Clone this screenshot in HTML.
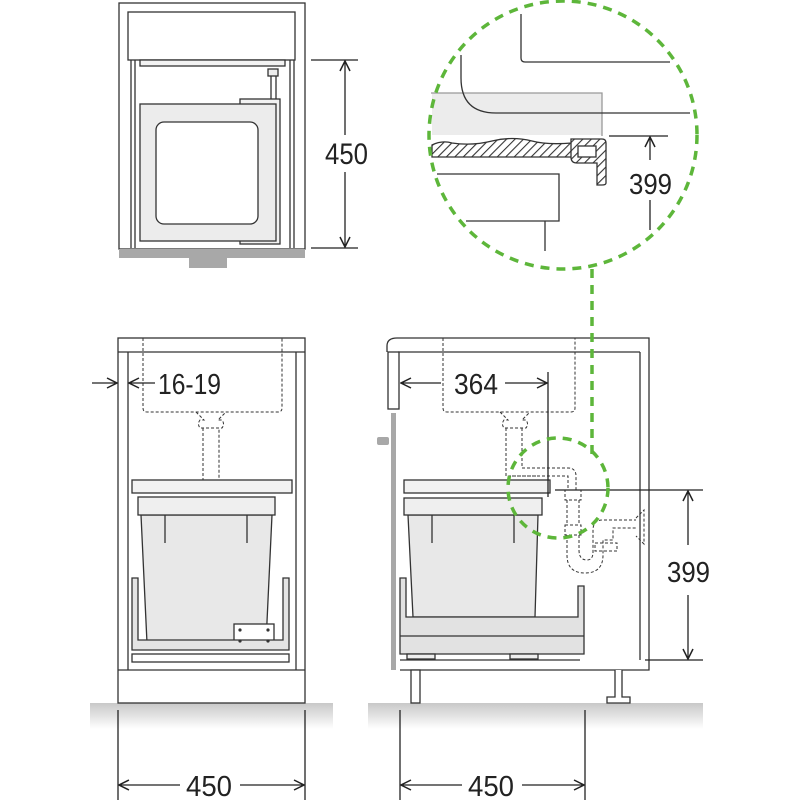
<!DOCTYPE html>
<html><head><meta charset="utf-8"><style>
html,body{margin:0;padding:0;background:#fff}
svg{display:block}
text{font-family:"Liberation Sans",sans-serif;fill:#222}
</style></head><body>
<svg width="800" height="800" viewBox="0 0 800 800" xmlns="http://www.w3.org/2000/svg">
<defs>
<linearGradient id="gr" x1="0" y1="0" x2="0" y2="1"><stop offset="0" stop-color="#c8c8c8"/><stop offset="1" stop-color="#fff"/></linearGradient>
<pattern id="hatch" width="6" height="6" patternUnits="userSpaceOnUse" patternTransform="rotate(45)"><rect width="6" height="6" fill="#fff"/><line x1="0" y1="0" x2="0" y2="6" stroke="#333" stroke-width="2.2"/></pattern>
<marker id="ar" viewBox="0 0 12 12" refX="11" refY="6" markerWidth="12" markerHeight="12" orient="auto" markerUnits="userSpaceOnUse"><path d="M1,1 L11,6 L1,11" fill="none" stroke="#222" stroke-width="1.5"/></marker>
</defs>
<g fill="none" stroke="#333" stroke-width="1.3">
<!-- TOP VIEW -->
<rect x="119" y="3" width="186" height="246" fill="#fff"/>
<rect x="128" y="12" width="167" height="48" fill="#fff"/>
<line x1="131" y1="60" x2="131" y2="248"/><line x1="135" y1="60" x2="135" y2="248"/>
<line x1="290" y1="60" x2="290" y2="248"/><line x1="294" y1="60" x2="294" y2="248"/>
<rect x="140" y="60" width="145" height="6" fill="#f2f2f2"/>
<rect x="268" y="69" width="10" height="7" fill="#eee"/>
<line x1="271" y1="76" x2="271" y2="100"/><line x1="276" y1="76" x2="276" y2="100"/>
<rect x="240" y="99" width="40" height="145" fill="#f2f2f2"/>
<rect x="140" y="104" width="136" height="137" fill="#ececec"/>
<rect x="156" y="122" width="102" height="102" rx="8" fill="#fff"/>
</g>
<rect x="119" y="249" width="186" height="9" fill="#a8a8a8"/>
<rect x="189" y="258" width="38" height="10" fill="#a8a8a8"/>
<g stroke="#222" stroke-width="1.3" fill="none">
<line x1="311" y1="60" x2="358" y2="60"/><line x1="311" y1="248" x2="358" y2="248"/>
<line x1="345" y1="135" x2="345" y2="61" marker-end="url(#ar)"/>
<line x1="345" y1="172" x2="345" y2="247" marker-end="url(#ar)"/>
</g>
<text x="325" y="164" font-size="30" textLength="43" lengthAdjust="spacingAndGlyphs">450</text>

<!-- GROUND -->
<rect x="90" y="703" width="243" height="26" fill="url(#gr)"/>
<rect x="368" y="703" width="335" height="26" fill="url(#gr)"/>

<!-- FRONT VIEW -->
<g fill="none" stroke="#333" stroke-width="1.3">
<rect x="118" y="338" width="187" height="365" fill="#fff"/>
<line x1="118" y1="352" x2="305" y2="352"/>
<line x1="128" y1="352" x2="128" y2="670"/><line x1="296" y1="352" x2="296" y2="670"/>
<line x1="118" y1="670" x2="305" y2="670"/>
<g stroke-dasharray="3,2" stroke-width="1">
<path d="M143,338 V408 q0,4 4,4 H278 q4,0 4,-4 V338"/>
<path d="M196,412 l8,8 h-4 q-3,4 0,8 h22 q3,-4 0,-8 h-4 l8,-8"/>
<path d="M203,428 V480 q0,8 8,8 q8,0 8,-8 V428"/>
</g>
<rect x="132" y="480" width="160" height="13" fill="#f2f2f2"/>
<path d="M141,515 L147,643 H266 L272,515 Z" fill="#e8e8e8"/>
<rect x="138" y="497" width="137" height="18" fill="#efefef"/>
<line x1="165" y1="515" x2="165" y2="543"/><line x1="247" y1="515" x2="247" y2="543"/>
<rect x="234" y="624" width="40" height="20" fill="#fff"/>
<path d="M132,578 H138 V640 H283 V578 H289 V650 H132 Z" fill="#e4e4e4"/>
<rect x="132" y="654" width="157" height="8" fill="#fff"/>
</g>
<g fill="#333"><circle cx="240" cy="630" r="1.6"/><circle cx="268" cy="630" r="1.6"/><circle cx="240" cy="641" r="1.6"/><circle cx="268" cy="641" r="1.6"/></g>
<g stroke="#222" stroke-width="1.3" fill="none">
<line x1="92" y1="383" x2="117" y2="383" marker-end="url(#ar)"/>
<line x1="155" y1="383" x2="129" y2="383" marker-end="url(#ar)"/>
<line x1="118" y1="710" x2="118" y2="800"/><line x1="305" y1="710" x2="305" y2="800"/>
<line x1="180" y1="785" x2="119" y2="785" marker-end="url(#ar)"/>
<line x1="240" y1="785" x2="304" y2="785" marker-end="url(#ar)"/>
</g>
<text x="158" y="394" font-size="29" textLength="63" lengthAdjust="spacingAndGlyphs">16-19</text>
<text x="186" y="796" font-size="29" textLength="46" lengthAdjust="spacingAndGlyphs">450</text>

<!-- SIDE VIEW -->
<g fill="none" stroke="#333" stroke-width="1.3">
<path d="M387,352 V346 q0,-8 10,-8 H649 V670 H640"/>
<line x1="640" y1="352" x2="640" y2="660"/>
<line x1="398" y1="352" x2="640" y2="352"/>
<rect x="388" y="352" width="11" height="57" fill="#fff"/>
<line x1="400" y1="670" x2="640" y2="670"/>
<line x1="400" y1="660" x2="580" y2="660"/>
<g stroke-dasharray="3,2" stroke-width="1">
<path d="M443,338 V408 q0,4 4,4 H571 q4,0 4,-4 V338"/>
<path d="M500,412 l8,8 h-4 q-3,4 0,8 h22 q3,-4 0,-8 h-4 l8,-8"/>
<path d="M506,428 V476 H540 M522,428 V468 H568 q8,0 8,8 V490 M512,476 H568 V490"/>
<path d="M565,490 h16 v10 h-16 z M565,525 h16 v10 h-16 z M567,500 v25 M579,500 v25"/>
<path d="M567,535 V555 q0,18 18,18 q18,0 18,-18 V540 h10 V528 H636 M579,535 V550 q0,10 8,10 q6,0 6,-8 V530 q0,-10 10,-10 H636"/>
<path d="M595,543 h22 v8 h-22 z M636,518 l8,-8 v34 l-8,-8"/>
</g>
<rect x="404" y="480" width="146" height="13" fill="#f2f2f2"/>
<path d="M408,515 L413,617 H535 L538,515 Z" fill="#e8e8e8"/>
<rect x="404" y="498" width="138" height="17" fill="#efefef"/>
<line x1="432" y1="515" x2="432" y2="543"/><line x1="514" y1="515" x2="514" y2="543"/>
<path d="M400,578 H406 V617 H578 V586 H584 V654 H400 Z" fill="#e2e2e2"/>
<line x1="400" y1="636" x2="584" y2="636"/>
<rect x="407" y="654" width="28" height="5" fill="#eee"/>
<rect x="510" y="654" width="28" height="5" fill="#eee"/>
<rect x="411" y="670" width="9" height="33" fill="#fff"/>
<path d="M615,670 V697 H607 V703 H630 V697 H622 V670" fill="#fff"/>
</g>
<rect x="391" y="413" width="5" height="257" fill="#a8a8a8"/>
<rect x="377" y="437" width="12" height="8" rx="2" fill="#a8a8a8"/>
<g stroke="#222" stroke-width="1.3" fill="none">
<line x1="548" y1="372" x2="548" y2="497"/>
<line x1="441" y1="383" x2="401" y2="383" marker-end="url(#ar)"/>
<line x1="505" y1="383" x2="547" y2="383" marker-end="url(#ar)"/>
<line x1="555" y1="490" x2="703" y2="490"/><line x1="645" y1="660" x2="703" y2="660"/>
<line x1="688" y1="545" x2="688" y2="491" marker-end="url(#ar)"/>
<line x1="688" y1="595" x2="688" y2="659" marker-end="url(#ar)"/>
<line x1="400" y1="710" x2="400" y2="800"/><line x1="585" y1="710" x2="585" y2="800"/>
<line x1="462" y1="785" x2="401" y2="785" marker-end="url(#ar)"/>
<line x1="522" y1="785" x2="584" y2="785" marker-end="url(#ar)"/>
</g>
<text x="454" y="394" font-size="29" textLength="44" lengthAdjust="spacingAndGlyphs">364</text>
<text x="667" y="582" font-size="29" textLength="43" lengthAdjust="spacingAndGlyphs">399</text>
<text x="468" y="796" font-size="29" textLength="46" lengthAdjust="spacingAndGlyphs">450</text>

<!-- DETAIL CIRCLE -->
<g fill="none" stroke="#333" stroke-width="1.3">
<path d="M521,14 V58 q0,4 4,4 H670"/>
<rect x="432" y="93" width="170" height="42" fill="#ececec" stroke="none"/>
<path d="M431,93 H602 V136" stroke="#999"/>
<path d="M461,55 V78 q0,35 35,35 H690"/>
<path d="M432,145 q10,-5 20,-2 q20,3 40,-2 q20,-5 40,0 q15,4 40,2 V157 H432 Z" fill="url(#hatch)"/>
<path d="M571,139 H602 q4,0 4,4 V183 q0,2 -4,2 H597 V163 H577 q-6,0 -6,-6 Z" fill="url(#hatch)"/>
<rect x="578" y="146" width="18" height="11" fill="#fff"/>
<path d="M437,174 H559 V221 H545 V251 M466,221 H559"/>
<line x1="609" y1="136" x2="668" y2="136" stroke="#222"/>
<line x1="650" y1="160" x2="650" y2="137" stroke="#222" marker-end="url(#ar)"/>
<line x1="650" y1="200" x2="650" y2="230" stroke="#222"/>
</g>
<text x="629" y="194" font-size="29" textLength="43" lengthAdjust="spacingAndGlyphs">399</text>
<g fill="none" stroke="#5db63a" stroke-width="3.5" stroke-dasharray="9,7">
<circle cx="563" cy="135" r="134"/>
<line x1="592" y1="269" x2="592" y2="455"/>
<circle cx="558" cy="488" r="50"/>
</g>
</svg>
</body></html>
